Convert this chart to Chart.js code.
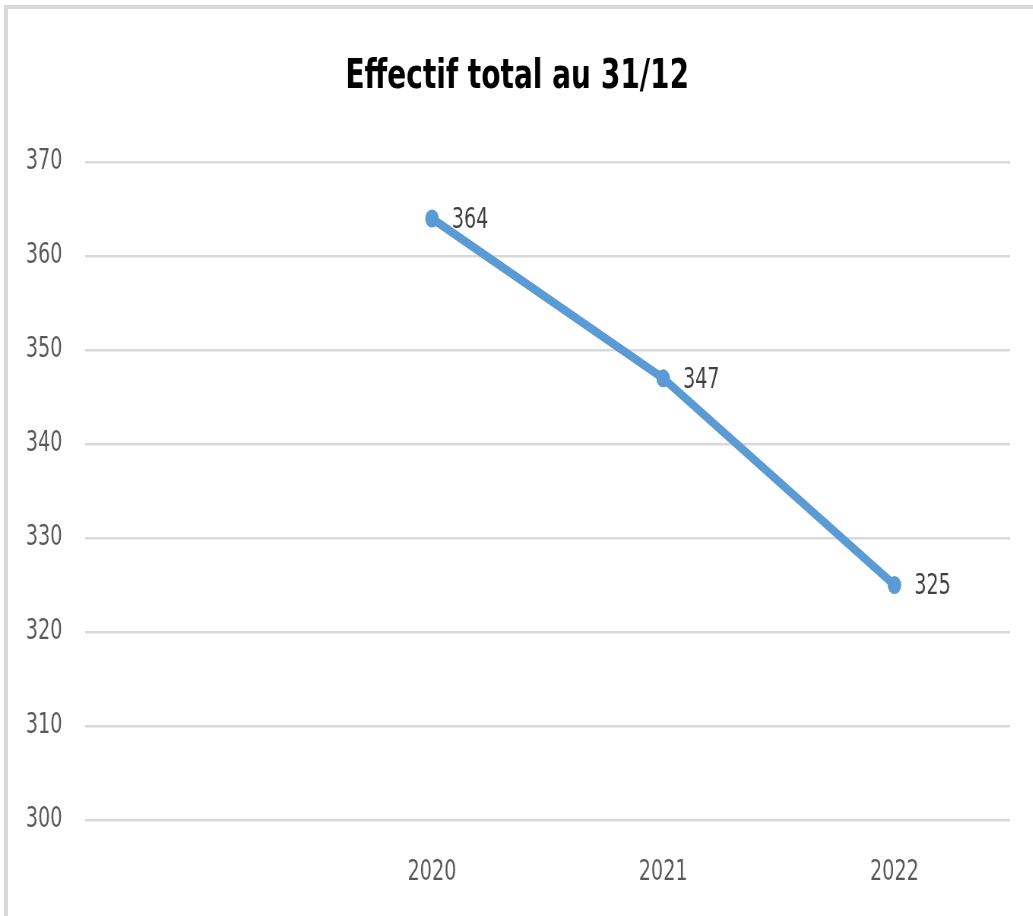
<!DOCTYPE html>
<html>
<head>
<meta charset="utf-8">
<script src="https://cdn.jsdelivr.net/npm/chart.js@4.4.1/dist/chart.umd.min.js"></script>
<style>
  html, body { margin: 0; padding: 0; background: #fff; overflow: hidden; }
  #wrap { position: relative; width: 1033px; height: 916px; overflow: hidden; }
  #frame { position: absolute; left: 4px; top: 5px; right: -10px; bottom: -10px;
           border-top: 4px solid #d9d9d9; border-left: 4px solid #d9d9d9; }
  /* le graphique d'origine est compressé horizontalement */
  canvas { position: absolute; left: 0; top: 0; transform-origin: 0 0; transform: scaleX(0.76); }
</style>
</head>
<body>
<div id="wrap">
  <div id="frame"></div>
  <canvas id="chart" width="1359" height="916"></canvas>
</div>
<script>
// Données
const categories = ['', '2020', '2021', '2022'];
const effectifs = [null, 364, 347, 325];
const yMin = 300;
const yMax = 370;
const yStep = 10;

const FONT = '"Liberation Sans Narrow", "DejaVu Sans Condensed", "Arial Narrow", sans-serif';

// Étiquettes de valeur à droite de chaque point
const valueLabels = {
    id: 'valueLabels',
    afterDatasetsDraw(chart) {
        const ctx = chart.ctx;
        const meta = chart.getDatasetMeta(0);
        ctx.save();
        ctx.font = '28px ' + FONT;
        ctx.fillStyle = '#404040';
        ctx.textAlign = 'left';
        ctx.textBaseline = 'middle';
        meta.data.forEach((pt, i) => {
            const v = effectifs[i];
            if (v == null) return;
            ctx.fillText(String(v), pt.x + 26, pt.y + 2);
        });
        ctx.restore();
    }
};

new Chart(document.getElementById('chart'), {
    type: 'line',
    data: {
        labels: categories,
        datasets: [{
            data: effectifs,
            borderColor: '#5b9bd5',
            backgroundColor: '#5b9bd5',
            borderWidth: 9,
            pointRadius: 9,
            pointHoverRadius: 9,
            pointBorderWidth: 0,
            tension: 0,
            spanGaps: false
        }]
    },
    options: {
        responsive: false,
        animation: false,
        layout: { padding: { left: 32, right: 30, top: 0, bottom: 0 } },
        plugins: {
            legend: { display: false },
            tooltip: { enabled: false },
            title: {
                display: true,
                text: 'Effectif total au 31/12',
                color: '#000',
                font: { family: FONT, size: 41, weight: 'bold', lineHeight: 1.2 },
                padding: { top: 53, bottom: 60 }
            }
        },
        scales: {
            x: {
                offset: true,
                grid: { display: false },
                border: { display: false },
                ticks: {
                    color: '#595959',
                    font: { family: FONT, size: 28 },
                    padding: 28,
                    maxRotation: 0
                },
                afterFit(scale) { scale.height = 96; }
            },
            y: {
                min: yMin,
                max: yMax,
                grid: { color: '#d9d9d9', lineWidth: 2.5, drawTicks: false },
                border: { display: false },
                ticks: {
                    stepSize: yStep,
                    color: '#595959',
                    font: { family: FONT, size: 28 },
                    padding: 30
                },
                afterFit(scale) { scale.width = 80; }
            }
        }
    },
    plugins: [valueLabels]
});
</script>
</body>
</html>
